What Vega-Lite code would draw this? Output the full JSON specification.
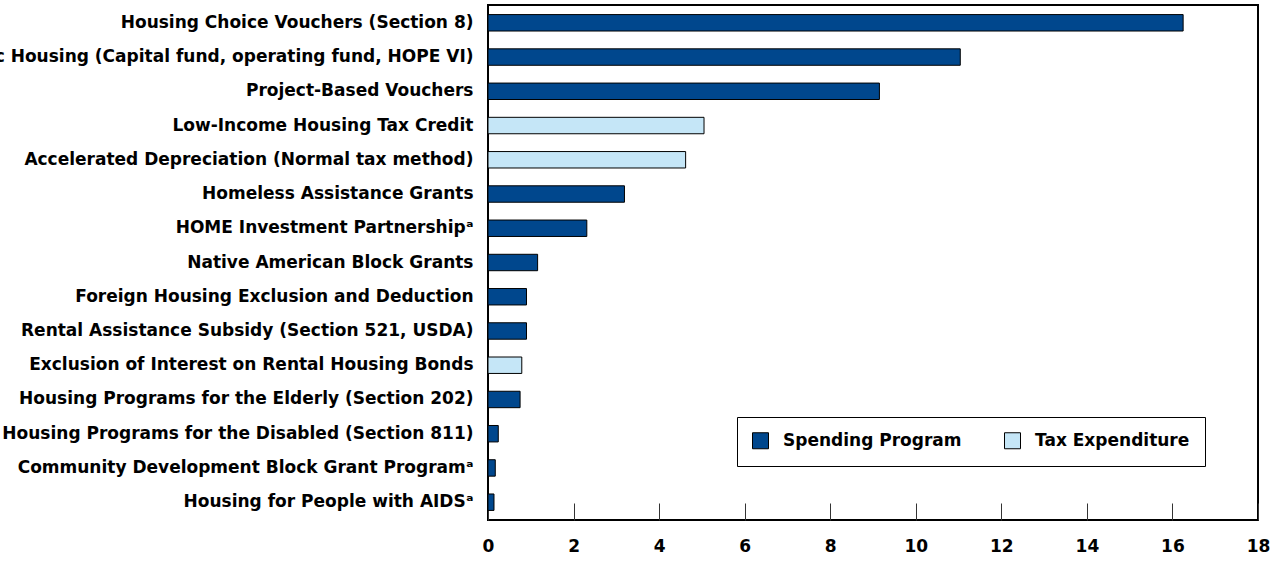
{
  "$schema": "https://vega.github.io/schema/vega-lite/v6.json",
  "autosize": {"type": "none"},
  "padding": {"left": 488, "top": 5, "right": 22, "bottom": 42},
  "width": 770,
  "height": 515,
  "background": "white",
  "config": {
    "view": {"stroke": "black", "strokeWidth": 2},
    "font": "DejaVu Sans"
  },
  "data": {
    "values": [
      {"program": "Housing Choice Vouchers (Section 8)", "value": 16.25, "type": "Spending Program"},
      {"program": "Public Housing (Capital fund, operating fund, HOPE VI)", "value": 11.04, "type": "Spending Program"},
      {"program": "Project-Based Vouchers", "value": 9.15, "type": "Spending Program"},
      {"program": "Low-Income Housing Tax Credit", "value": 5.05, "type": "Tax Expenditure"},
      {"program": "Accelerated Depreciation (Normal tax method)", "value": 4.62, "type": "Tax Expenditure"},
      {"program": "Homeless Assistance Grants", "value": 3.19, "type": "Spending Program"},
      {"program": "HOME Investment Partnershipᵃ", "value": 2.31, "type": "Spending Program"},
      {"program": "Native American Block Grants", "value": 1.16, "type": "Spending Program"},
      {"program": "Foreign Housing Exclusion and Deduction", "value": 0.9, "type": "Spending Program"},
      {"program": "Rental Assistance Subsidy (Section 521, USDA)", "value": 0.9, "type": "Spending Program"},
      {"program": "Exclusion of Interest on Rental Housing Bonds", "value": 0.79, "type": "Tax Expenditure"},
      {"program": "Housing Programs for the Elderly (Section 202)", "value": 0.75, "type": "Spending Program"},
      {"program": "Housing Programs for the Disabled (Section 811)", "value": 0.24, "type": "Spending Program"},
      {"program": "Community Development Block Grant Programᵃ", "value": 0.17, "type": "Spending Program"},
      {"program": "Housing for People with AIDSᵃ", "value": 0.14, "type": "Spending Program"}
    ]
  },
  "mark": {"type": "bar", "stroke": "black", "strokeWidth": 1},
  "encoding": {
    "y": {
      "field": "program",
      "type": "nominal",
      "sort": null,
      "scale": {"paddingInner": 0.52, "paddingOuter": 0.28},
      "axis": {
        "title": null,
        "ticks": false,
        "domain": false,
        "labelPadding": 15,
        "labelFontSize": 17,
        "labelFontWeight": "bold",
        "labelColor": "black",
        "labelLimit": 0
      }
    },
    "x": {
      "field": "value",
      "type": "quantitative",
      "scale": {"domain": [0, 18], "nice": false},
      "axis": {
        "title": null,
        "values": [0, 2, 4, 6, 8, 10, 12, 14, 16, 18],
        "tickSize": -17,
        "tickColor": "#333333",
        "tickWidth": 1,
        "grid": false,
        "domain": false,
        "labelPadding": 35,
        "labelFontSize": 17,
        "labelFontWeight": "bold",
        "labelColor": "black",
        "labelFlush": false
      }
    },
    "color": {
      "field": "type",
      "type": "nominal",
      "scale": {"domain": ["Spending Program", "Tax Expenditure"], "range": ["#00478D", "#C5E6F7"]},
      "legend": {
        "title": null,
        "orient": "none",
        "legendX": 249,
        "legendY": 412,
        "direction": "horizontal",
        "columnPadding": 40,
        "padding": 15,
        "strokeColor": "black",
        "fillColor": "white",
        "symbolType": "square",
        "symbolSize": 256,
        "symbolStrokeColor": "black",
        "symbolStrokeWidth": 1,
        "symbolOpacity": 1,
        "labelFontSize": 17,
        "labelFontWeight": "bold",
        "labelColor": "black",
        "labelOffset": 14,
        "labelLimit": 0
      }
    }
  }
}
